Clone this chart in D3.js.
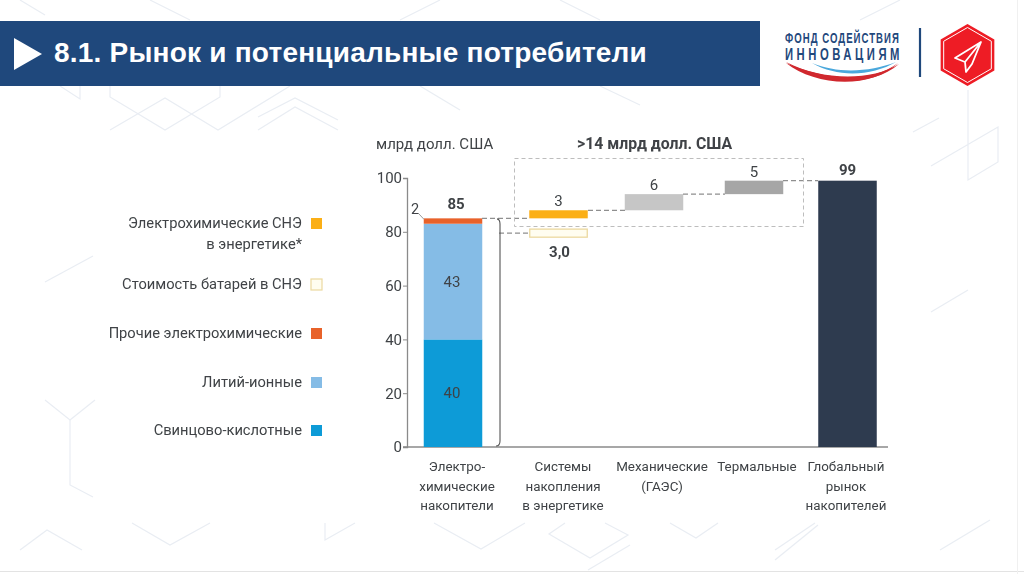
<!DOCTYPE html>
<html><head><meta charset="utf-8">
<script src="https://cdn.jsdelivr.net/npm/d3@7"></script>
<style>html,body{margin:0;padding:0;background:#fff;overflow:hidden}svg{display:block}text{font-family:Roboto,"Noto Sans",sans-serif}</style>
</head><body><svg id="c" width="1024" height="574"></svg>
<script>
const categories=["electro","systems","mech","thermal","global"];
const axisTicks=[0,20,40,60,80,100];
const stackKeys=["Свинцово-кислотные","Литий-ионные","Прочие электрохимические"];
const stackValues=[40,43,2];
const stackLabels=["40","43","2"];
const stackColors=["#0b9bd7","#85bce6","#e8622c"];
const floatCats=["systems","mech","thermal"];
const floatStart=[85,88,94];
const floatValues=[3,6,5];
const floatColors=["#fbaf17","#c6c6c6","#a6a6a6"];
const batteryStart=78, batteryValue=3;
const globalTotal=99, electroTotal=85;
const legendItems=[["Электрохимические СНЭ","в энергетике*"],["Стоимость батарей в СНЭ"],["Прочие электрохимические"],["Литий-ионные"],["Свинцово-кислотные"]];
const legendColors=["#fbaf17","#fffdf0","#e8622c","#85bce6","#0b9bd7"];
const xLabels=[["Электро-","химические","накопители"],["Системы","накопления","в энергетике"],["Механические","(ГАЭС)"],["Термальные"],["Глобальный","рынок","накопителей"]];

const svg=d3.select("#c");
const defs=svg.append("defs");
defs.append("filter").attr("id","soft").append("feGaussianBlur").attr("stdDeviation",0.35);
const hex=(cx,cy,r)=>d3.range(6).map(i=>[cx+r*Math.sin(i*Math.PI/3),cy-r*Math.cos(i*Math.PI/3)]);

/* faint background pattern */
const bg=svg.append("g").attr("fill","none").attr("stroke","#e9edf3").attr("stroke-width",1.2);
[
 [[60,86],[80,99],[80,86]],[[110,86],[110,97],[165,130],[220,97],[220,86]],[[110,130],[165,98],[218,130],[290,86]],
 [[258,117],[295,98],[338,120]],[[258,130],[295,107],[338,130]],[[45,282],[93,256]],
 [[913,132],[939,118]],[[968,90],[968,180],[998,162],[998,127],[931,166]],[[931,312],[968,290]],
 [[45,400],[70,420],[95,400]],[[70,420],[70,485],[93,497]],
 [[20,550],[47,530],[82,550]],[[132,523],[170,545],[210,523]],[[325,523],[325,540],[355,523]],
 [[434,523],[481,549],[525,523]],[[605,523],[628,535],[590,558],[549,534],[565,523]],[[588,570],[630,545]],
 [[670,523],[696,538],[718,523]],[[775,550],[815,523]],[[775,560],[818,525]],[[940,550],[990,520]],
 [[20,0],[45,15]],[[150,0],[190,20]],[[400,20],[440,0]],[[560,0],[600,20]],[[860,20],[900,0]],[[420,86],[460,110]],[[600,86],[640,105]]
].forEach(p=>bg.append("path").attr("d",d3.line()(p)));
svg.append("line").attr("x1",0).attr("x2",1024).attr("y1",571.5).attr("y2",571.5).attr("stroke","#e3e3e3");
svg.append("line").attr("x1",1017.5).attr("x2",1017.5).attr("y1",0).attr("y2",574).attr("stroke","#f0f0f0");

/* header */
svg.append("rect").attr("x",0).attr("y",21).attr("width",760).attr("height",65).attr("fill","#1f487c");
svg.append("path").attr("d","M14 38 L42 54 L14 70Z").attr("fill","#fff");
svg.append("text").attr("x",54).attr("y",62).attr("fill","#fff").attr("font-size",28).attr("font-weight",700).attr("letter-spacing",0.22)
 .style("font-family","'Liberation Sans',Arial,sans-serif").text("8.1. Рынок и потенциальные потребители");

/* logo */
const logo=svg.append("g");
const logoLine=(t,x,yy,fs,ls,w)=>{
  const n=logo.append("text").attr("fill","#1f487c").attr("font-size",fs).attr("font-weight",700).attr("letter-spacing",ls)
    .style("font-family","'Liberation Sans',sans-serif").text(t);
  const len=n.node().getComputedTextLength();
  n.attr("transform",`translate(${x},${yy}) scale(${w/len},1)`);
};
logoLine("ФОНД СОДЕЙСТВИЯ",785,43,15,1.6,115);
logoLine("ИННОВАЦИЯМ",785,60,16,5,118);
logo.append("path").attr("d","M786 63 C815 86 870 90 898 63 C870 84 825 80 786 63Z").attr("fill","#d0282e");
logo.append("path").attr("d","M786 62 C815 84 868 90 899 64 C870 82 820 80 786 62Z").attr("fill","#d0282e");
logo.append("path").attr("d","M812 63 C838 74 870 72 896 62 C872 76 838 78 812 63Z").attr("fill","#4aa8dc");
logo.append("line").attr("x1",920).attr("x2",920).attr("y1",28).attr("y2",77).attr("stroke","#1f487c").attr("stroke-width",2.2);
logo.append("path").attr("d",d3.line()(hex(967.5,55,31))+"Z").attr("fill","#ee1c25");
logo.append("path").attr("d",d3.line()(hex(967.5,55,27.5))+"Z").attr("fill","none").attr("stroke","#fff").attr("stroke-width",1);
logo.append("path").attr("d","M981 42 L955 58 L965 62 L966 72 L972 64 Z M981 42 L965 62").attr("fill","none").attr("stroke","#fff").attr("stroke-width",1.8).attr("stroke-linejoin","round");

/* scales */
const y=d3.scaleLinear().domain([0,100]).range([447,178]);
const xc=d3.scaleOrdinal().domain(categories).range([453,558.5,654,754,847.5]);
const xl=d3.scaleOrdinal().domain(categories).range([457,563,662,757,846]);
const bw=58.5;
const ink="#3f4346";
const chart=svg.append("g").attr("filter","url(#soft)");

/* axes */
const yAxis=d3.axisLeft(y).tickValues(axisTicks).tickSize(4).tickPadding(1);
const ga=chart.append("g").attr("transform","translate(407,0)").call(yAxis);
ga.select(".domain").attr("stroke","#8a8a8a").attr("stroke-width",1.3);
ga.selectAll("line").attr("stroke","#8a8a8a");
ga.selectAll("text").attr("fill",ink).attr("font-size",15).style("font-family","Roboto,sans-serif");
chart.append("line").attr("x1",403).attr("x2",888).attr("y1",y(0)).attr("y2",y(0)).attr("stroke","#8a8a8a").attr("stroke-width",1.5);

/* stacked bar */
let acc=0;
stackValues.forEach((v,i)=>{
  chart.append("rect").attr("x",xc("electro")-bw/2).attr("width",bw).attr("y",y(acc+v)).attr("height",y(acc)-y(acc+v)).attr("fill",stackColors[i]);
  if(i<2)chart.append("text").attr("x",xc("electro")-1).attr("y",y(acc+v/2)+5).attr("text-anchor","middle").attr("font-size",15).attr("fill",ink).text(stackLabels[i]);
  acc+=v;
});
chart.append("text").attr("x",415).attr("y",214).attr("text-anchor","middle").attr("font-size",14.5).attr("fill",ink).text(stackLabels[2]);
chart.append("path").attr("d",`M419 214 L424 ${y(electroTotal)+1}`).attr("stroke","#999").attr("fill","none");
chart.append("text").attr("x",456).attr("y",209).attr("text-anchor","middle").attr("font-size",15).attr("font-weight",700).attr("fill",ink).text(electroTotal);

/* floating bars */
floatCats.forEach((c,i)=>{
  chart.append("rect").attr("x",xc(c)-bw/2).attr("width",bw).attr("y",y(floatStart[i]+floatValues[i])).attr("height",y(floatStart[i])-y(floatStart[i]+floatValues[i])).attr("fill",floatColors[i]);
  chart.append("text").attr("x",xc(c)).attr("y",y(floatStart[i]+floatValues[i])-4).attr("text-anchor","middle").attr("font-size",15).attr("fill",ink).text(floatValues[i]);
});
chart.append("rect").attr("x",xc("systems")-bw/2+.5).attr("width",bw-1).attr("y",y(batteryStart+batteryValue)).attr("height",y(batteryStart)-y(batteryStart+batteryValue)).attr("fill","#fffdf0").attr("stroke","#ecd9a0").attr("stroke-width",1.3);
chart.append("text").attr("x",xc("systems")+1).attr("y",y(batteryStart)+20).attr("text-anchor","middle").attr("font-size",15).attr("font-weight",700).attr("fill",ink).text("3,0");

/* global bar */
chart.append("rect").attr("x",xc("global")-bw/2).attr("width",bw).attr("y",y(globalTotal)).attr("height",y(0)-y(globalTotal)).attr("fill","#2d3b50");
chart.append("text").attr("x",xc("global")).attr("y",y(globalTotal)-6).attr("text-anchor","middle").attr("font-size",15).attr("font-weight",700).attr("fill",ink).text(globalTotal);

/* connectors */
const dash=(x1,x2,v)=>chart.append("line").attr("x1",x1).attr("x2",x2).attr("y1",y(v)).attr("y2",y(v)).attr("stroke","#8f8f8f").attr("stroke-width",1.2).attr("stroke-dasharray","5 3");
dash(482,528,electroTotal); dash(588,625,88); dash(683,725,94); dash(783,818,globalTotal); dash(499,528,batteryStart+batteryValue/2);
chart.append("path").attr("d",`M497 ${y(electroTotal)+.5} Q500 ${y(electroTotal)+1} 500 224 L500 441 Q500 ${y(0)-1} 496 ${y(0)-1}`).attr("fill","none").attr("stroke","#555").attr("stroke-width",1.1);
chart.append("rect").attr("x",514.5).attr("y",158.5).attr("width",289).attr("height",68).attr("fill","none").attr("stroke","#bdbdbd").attr("stroke-width",1).attr("stroke-dasharray","4 3");

/* headings */
chart.append("text").attr("x",376).attr("y",149).attr("font-size",15).attr("fill",ink).text("млрд долл. США");
chart.append("text").attr("x",577).attr("y",149).attr("font-size",15.8).attr("font-weight",700).attr("fill",ink).text(">14 млрд долл. США");

/* category labels */
categories.forEach((c,i)=>xLabels[i].forEach((t,j)=>{
  chart.append("text").attr("x",xl(c)).attr("y",471+j*19.5).attr("text-anchor","middle").attr("font-size",13.4).attr("fill",ink).text(t);
}));

/* legend */
const legendY=[223,284,333,382,430];
legendItems.forEach((lines,i)=>{
  lines.forEach((t,j)=>chart.append("text").attr("x",302).attr("y",legendY[i]+5+j*21).attr("text-anchor","end").attr("font-size",14.7).attr("fill",ink).text(t));
  chart.append("rect").attr("x",311).attr("y",legendY[i]-5).attr("width",11).attr("height",11).attr("fill",legendColors[i]).attr("stroke",i==1?"#ecd9a0":"none").attr("stroke-width",1.2);
});
</script></body></html>
